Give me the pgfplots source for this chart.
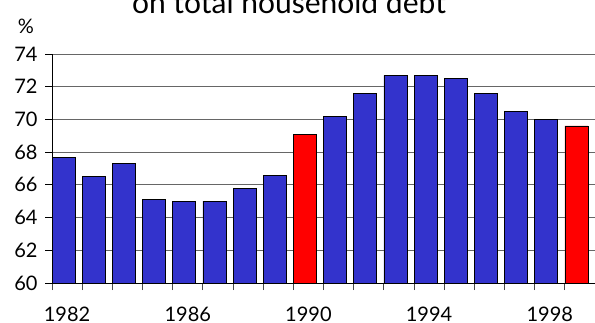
\documentclass[border=0pt]{standalone}
\usepackage{fontspec}
\setmainfont{Lato}
\usepackage{pgfplots}
\pgfplotsset{compat=1.18}
\definecolor{barblue}{HTML}{3333CC}
\definecolor{barred}{HTML}{FF0000}
\begin{document}
\begin{tikzpicture}[x=1pt,y=1pt]
\useasboundingbox (0,0) rectangle (595,322);
\node[anchor=base, font=\fontsize{30}{33}\selectfont] at (289,308) {on total household debt};
\node[anchor=center, font=\fontsize{20}{24}\selectfont] at (26,296) {\%};
\begin{axis}[
  at={(52pt,39pt)}, anchor=south west, scale only axis,
  width=543pt, height=229pt,
  xmin=-0.5, xmax=17.5, ymin=60, ymax=74,
  ytick={60,62,...,74},
  ymajorgrids, grid style={black!60, line width=0.9pt},
  axis x line*=bottom, axis y line*=left,
  axis line style={black, line width=0.9pt, -},
  xtick={0,4,8,12,16},
  xticklabels={1982,1986,1990,1994,1998},
  minor xtick={-0.5,0.5,...,16.5},
  tick align=outside,
  major x tick style={draw=none},
  minor x tick style={black!70, line width=0.9pt},
  minor tick length=7pt,
  major tick length=7pt,
  y tick style={black, line width=0.9pt},
  /pgf/number format/assume math mode=true,
  /pgf/number format/1000 sep={},
  tick label style={font=\fontsize{20}{24}\selectfont},
  xticklabel style={yshift=-13pt},
  yticklabel style={xshift=-4pt},
  ybar, bar width=23pt,
]
\addplot[fill=barblue, draw=black, line width=0.8pt, bar shift=-3.5pt] coordinates {
(0,67.7) (1,66.5) (2,67.3) (3,65.1) (4,65.0) (5,65.0) (6,65.8) (7,66.6)
(9,70.2) (10,71.6) (11,72.7) (12,72.7) (13,72.5) (14,71.6) (15,70.5) (16,70.0)};
\addplot[fill=barred, draw=black, line width=0.8pt, bar shift=-3.5pt] coordinates {
(8,69.1) (17,69.6)};
\end{axis}
\end{tikzpicture}
\end{document}
